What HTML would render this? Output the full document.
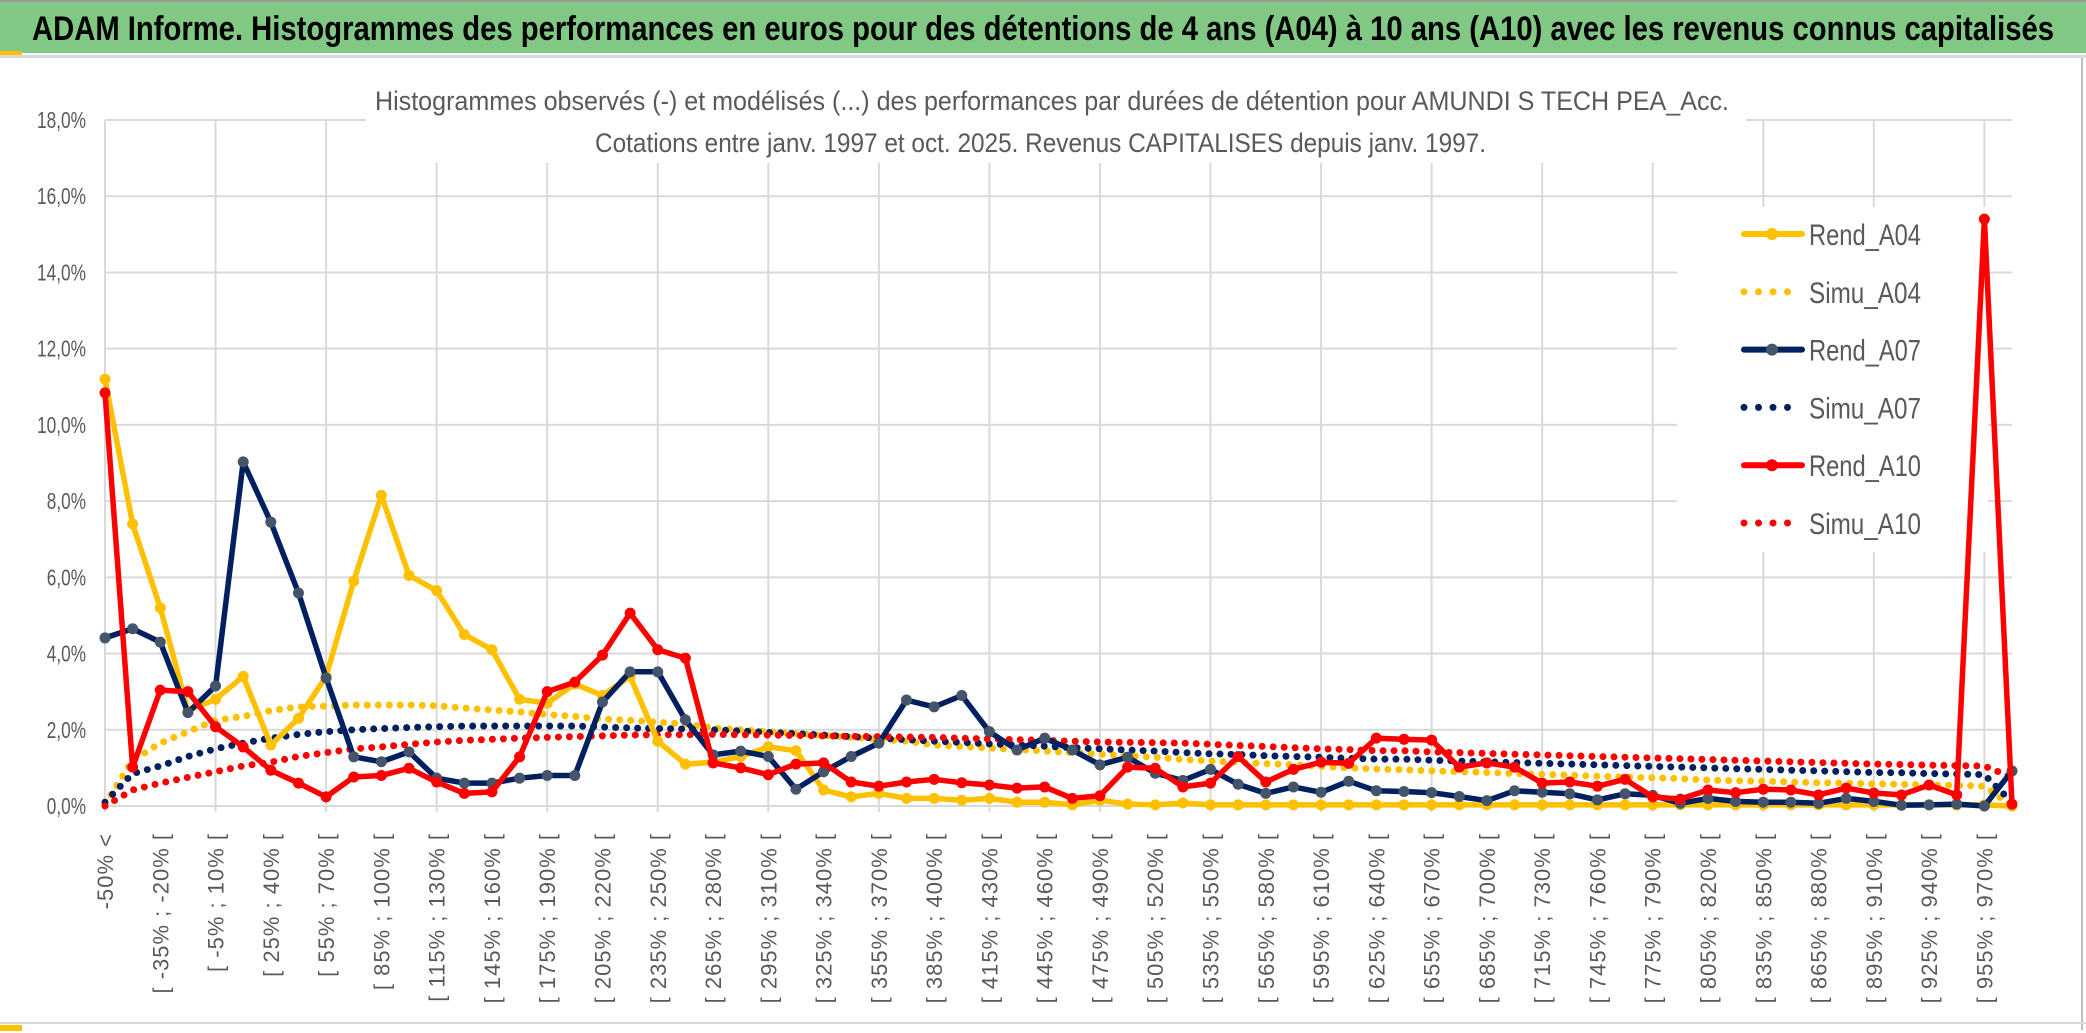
<!DOCTYPE html>
<html><head><meta charset="utf-8"><style>
body{margin:0;background:#fff;width:2086px;height:1033px;overflow:hidden;position:relative;font-family:"Liberation Sans",sans-serif}
#hdr{position:absolute;left:0;top:0;width:2086px;height:53px;background:#80c883;border-top:2px solid #999;box-sizing:border-box}
</style></head><body>
<div id="hdr"></div>
<div style="position:absolute;left:0;top:55px;width:2086px;height:3px;background:#d9d9d9"></div>
<div style="position:absolute;left:0;top:51px;width:22px;height:4px;background:#ffc000"></div>
<div style="position:absolute;left:2081px;top:58px;width:2px;height:972px;background:#bfbfbf"></div>
<div style="position:absolute;left:0;top:1022px;width:2086px;height:2px;background:#d9d9d9"></div>
<div style="position:absolute;left:0;top:1025px;width:22px;height:6px;background:#ffc000"></div>
<svg id="chart" width="2086" height="1033" style="position:absolute;left:0;top:0">
<text x="32" y="40" font-size="34" font-weight="bold" fill="#000" textLength="2022" lengthAdjust="spacingAndGlyphs" font-family="Liberation Sans, sans-serif">ADAM Informe. Histogrammes des performances en euros pour des détentions de 4 ans (A04) à 10 ans (A10) avec les revenus connus capitalisés</text>
</svg>
<script>
const categories=[];
for(let i=0;i<70;i++){categories.push(i===0?"-50% <":"[ "+(-50+15*(i-1))+"% ; "+(-35+15*(i-1))+"% [");}
const yTicks=[0,2,4,6,8,10,12,14,16,18];
const rendA04=[11.2,7.4,5.2,2.5,2.8,3.4,1.6,2.3,3.4,5.9,8.15,6.05,5.65,4.5,4.1,2.8,2.7,3.2,2.9,3.4,1.7,1.1,1.15,1.3,1.55,1.45,0.42,0.24,0.33,0.2,0.2,0.15,0.2,0.1,0.1,0.03,0.15,0.05,0.03,0.08,0.03,0.03,0.03,0.03,0.03,0.03,0.03,0.03,0.03,0.03,0.03,0.03,0.03,0.03,0.03,0.03,0.03,0.03,0.03,0.03,0.03,0.03,0.03,0.03,0.03,0.03,0.03,0.03,0.03,0.0];
const rendA07=[4.41,4.65,4.3,2.45,3.15,9.03,7.45,5.59,3.36,1.29,1.16,1.42,0.73,0.6,0.6,0.73,0.8,0.8,2.73,3.52,3.52,2.26,1.34,1.44,1.3,0.44,0.9,1.3,1.65,2.78,2.6,2.9,1.95,1.47,1.78,1.47,1.08,1.28,0.86,0.67,0.96,0.57,0.33,0.5,0.36,0.65,0.4,0.38,0.35,0.25,0.14,0.4,0.36,0.32,0.16,0.32,0.28,0.07,0.2,0.12,0.1,0.1,0.07,0.2,0.12,0.02,0.03,0.05,0.0,0.92];
const rendA10=[10.84,1.02,3.04,3.0,2.08,1.55,0.94,0.6,0.24,0.76,0.8,0.99,0.63,0.33,0.37,1.29,3.0,3.25,3.96,5.06,4.1,3.88,1.13,1.0,0.82,1.1,1.13,0.63,0.52,0.63,0.7,0.61,0.55,0.47,0.5,0.2,0.27,1.02,0.99,0.5,0.6,1.3,0.63,0.96,1.15,1.12,1.78,1.75,1.73,1.02,1.13,1.02,0.6,0.63,0.52,0.7,0.24,0.18,0.42,0.35,0.44,0.42,0.29,0.47,0.34,0.29,0.55,0.29,15.4,0.05];
const simuA04=[0.05,1.2,1.65,1.95,2.25,2.35,2.5,2.6,2.62,2.65,2.65,2.65,2.63,2.57,2.52,2.47,2.4,2.35,2.28,2.25,2.2,2.15,2.05,2.0,1.95,1.9,1.85,1.8,1.75,1.7,1.6,1.56,1.52,1.48,1.44,1.4,1.36,1.32,1.28,1.22,1.18,1.15,1.11,1.08,1.04,1.0,0.97,0.95,0.92,0.9,0.88,0.85,0.83,0.81,0.78,0.76,0.74,0.72,0.68,0.66,0.65,0.63,0.61,0.6,0.58,0.57,0.55,0.54,0.52,0.0];
const simuA07=[0.1,0.85,1.05,1.3,1.5,1.65,1.78,1.88,1.95,2.0,2.03,2.06,2.08,2.1,2.1,2.1,2.1,2.1,2.07,2.05,2.03,2.02,2.0,1.97,1.93,1.9,1.86,1.82,1.78,1.74,1.7,1.67,1.63,1.6,1.57,1.53,1.5,1.47,1.44,1.4,1.37,1.35,1.32,1.3,1.28,1.25,1.23,1.23,1.2,1.18,1.16,1.14,1.12,1.1,1.08,1.06,1.04,1.02,1.0,0.98,0.96,0.94,0.92,0.9,0.88,0.87,0.85,0.84,0.82,0.1];
const simuA10=[0.0,0.42,0.6,0.75,0.9,1.05,1.15,1.3,1.4,1.5,1.55,1.62,1.68,1.72,1.75,1.78,1.8,1.82,1.84,1.86,1.87,1.87,1.88,1.87,1.86,1.85,1.84,1.83,1.82,1.81,1.8,1.78,1.76,1.74,1.72,1.7,1.68,1.67,1.66,1.65,1.62,1.59,1.56,1.53,1.5,1.48,1.45,1.45,1.42,1.4,1.38,1.36,1.34,1.32,1.3,1.28,1.26,1.24,1.22,1.2,1.18,1.16,1.14,1.12,1.1,1.09,1.07,1.06,1.05,0.75];

const NS="http://www.w3.org/2000/svg";
const svg=document.getElementById('chart');
const X0=105,X1=2012,Y0=806,Y18=120;
function xs(i){return X0+i*(X1-X0)/(categories.length-1);}
function ys(v){return Y0-v*(Y0-Y18)/18;}
function mk(tag,attrs,parent){const e=document.createElementNS(NS,tag);for(const k in attrs)e.setAttribute(k,attrs[k]);(parent||svg).appendChild(e);return e;}

const grid=mk('g',{});


yTicks.forEach(t=>{
  const l=mk('line',{x1:X0,x2:X1,y1:ys(t),y2:ys(t),stroke:'#d9d9d9','stroke-width':2},grid);
  
  
  const s=t.toFixed(1).replace('.',',')+'%';
  const tx=mk('text',{x:86,y:ys(t)+8,'text-anchor':'end','font-size':23,fill:'#595959',textLength:s.length*9.8,lengthAdjust:'spacingAndGlyphs'});
  tx.textContent=s;
  
  
});
for(let i=0;i<categories.length;i+=4){
  const l=mk('line',{x1:xs(i),x2:xs(i),y1:Y18,y2:Y0+6,stroke:'#d9d9d9','stroke-width':2},grid);
  
  
}
const tb=mk('rect',{x:366,y:78,width:1380,height:85,fill:'#fff'});


const lb=mk('rect',{x:1677,y:207,width:311,height:345,fill:'#fff'});



const t1=mk('text',{x:375,y:110,'font-size':27,fill:'#595959',textLength:1354,lengthAdjust:'spacingAndGlyphs'});
t1.textContent='Histogrammes observés (-) et modélisés (...) des performances par durées de détention pour AMUNDI S TECH PEA_Acc.';


const t2=mk('text',{x:595,y:152,'font-size':27,fill:'#595959',textLength:891,lengthAdjust:'spacingAndGlyphs'});
t2.textContent='Cotations entre janv. 1997 et oct. 2025. Revenus CAPITALISES depuis janv. 1997.';



for(let i=0;i<categories.length;i+=2){
  const x=xs(i)+8,y=833;
  const tx=mk('text',{x:x,y:y,transform:'rotate(-90 '+x+' '+y+')','text-anchor':'end','font-size':22,fill:'#595959','letter-spacing':'1'});
  tx.textContent=categories[i];
  
  
}

function pts(arr){return arr.map((v,i)=>xs(i).toFixed(1)+','+ys(v).toFixed(1)).join(' ');}
function simu(arr,color,name){
  const p=mk('polyline',{points:pts(arr),fill:'none',stroke:color,'stroke-width':7,'stroke-linecap':'round','stroke-dasharray':'0 11'});
  
  
}
function rend(arr,color,mcol,name){
  const g=mk('g',{});
  
  
  mk('polyline',{points:pts(arr),fill:'none',stroke:color,'stroke-width':5.5,'stroke-linejoin':'round'},g);
  arr.forEach((v,i)=>{
    const c=mk('circle',{cx:xs(i),cy:ys(v),r:5.5,fill:mcol},g);
    
    
  });
}
simu(simuA04,'#ffc000','simu-a04-line');
simu(simuA07,'#002060','simu-a07-line');
simu(simuA10,'#ff0000','simu-a10-line');
rend(rendA04,'#ffc000','#ffc000','rend-a04-series');
rend(rendA07,'#002060','#44546a','rend-a07-series');
rend(rendA10,'#ff0000','#ff0000','rend-a10-series');

const legNames=['Rend_A04','Simu_A04','Rend_A07','Simu_A07','Rend_A10','Simu_A10'];
const legCols=['#ffc000','#ffc000','#002060','#002060','#ff0000','#ff0000'];
const legMk=['#ffc000','','#44546a','','#ff0000',''];
legNames.forEach((n,k)=>{
  const y=234+k*57.8;
  const g=mk('g',{});
  
  
  if(k%2===0){
    mk('line',{x1:1744,x2:1802,y1:y,y2:y,stroke:legCols[k],'stroke-width':6,'stroke-linecap':'round'},g);
    mk('circle',{cx:1772,cy:y,r:6,fill:legMk[k]},g);
  }else{
    mk('line',{x1:1744,x2:1800,y1:y,y2:y,stroke:legCols[k],'stroke-width':7,'stroke-linecap':'round','stroke-dasharray':'0 14.5'},g);
  }
  const tx=mk('text',{x:1809,y:y+11,'font-size':30,fill:'#595959',textLength:112,lengthAdjust:'spacingAndGlyphs'},g);
  tx.textContent=n;
});
</script>
</body></html>
